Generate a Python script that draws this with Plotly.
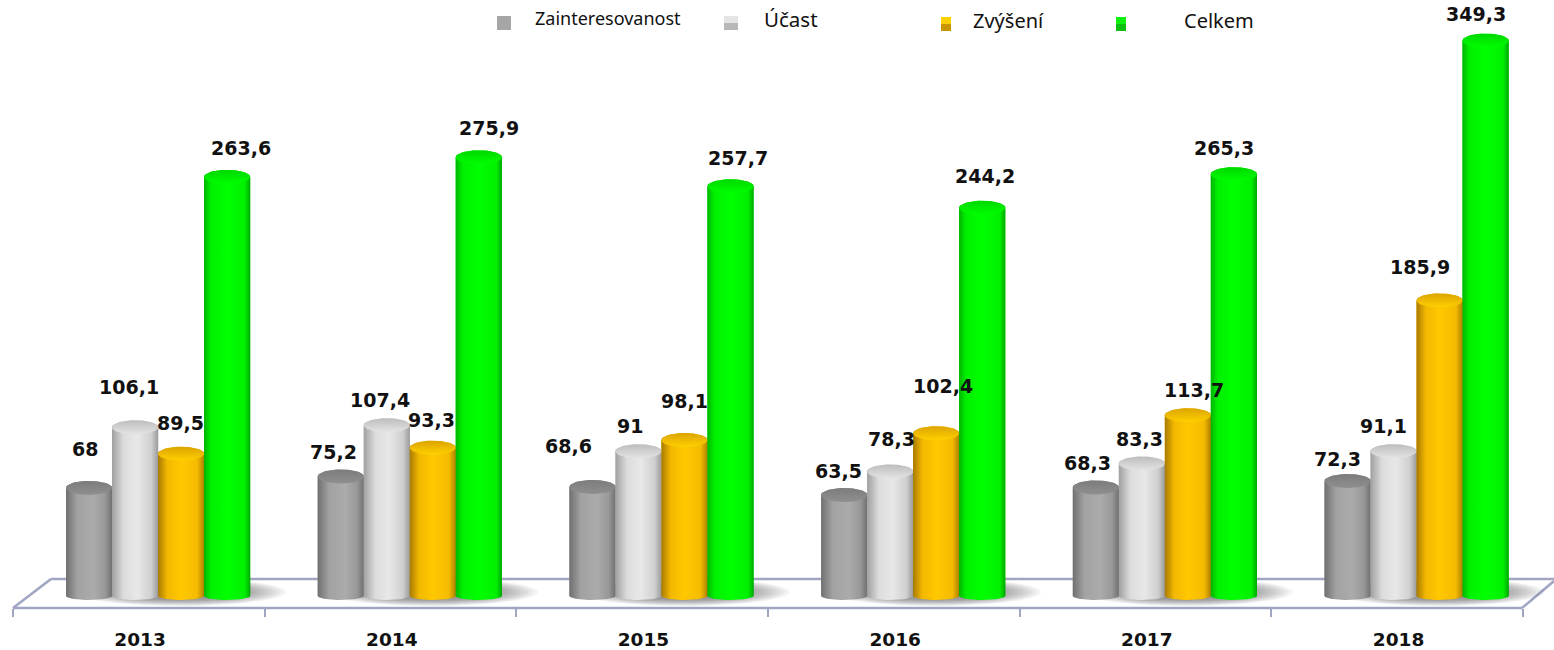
import numpy as np
import plotly.graph_objects as go

years = ["2013", "2014", "2015", "2016", "2017", "2018"]
zainteresovanost = [68, 75.2, 68.6, 63.5, 68.3, 72.3]
ucast = [106.1, 107.4, 91, 78.3, 83.3, 91.1]
zvyseni = [89.5, 93.3, 98.1, 102.4, 113.7, 185.9]
celkem = [263.6, 275.9, 257.7, 244.2, 265.3, 349.3]
series_names = ["Zainteresovanost", "Účast", "Zvýšení", "Celkem"]
series_values = [zainteresovanost, ucast, zvyseni, celkem]

# hand-placed label offsets in pixels, per series then per year
label_dx = [[-4, -7, -24, -6, -8, -10], [-6, -7, -9, 1, -2, -10],
            [-1, -1, 0, 7, 6, -20], [14, 10, 7, 3, -10, -10]]
label_dy = [[39, 24, 41, 24, 24, 22], [40, 25, 25, 33, 25, 25],
            [31, 28, 39, 47, 25, 33], [29, 29, 28, 32, 26, 27]]

# styles
body_colors = [
    [[0, "#707070"], [0.25, "#a2a2a2"], [0.6, "#ababab"], [0.85, "#989898"], [1, "#707070"]],
    [[0, "#a0a0a0"], [0.25, "#dcdcdc"], [0.55, "#e8e8e8"], [0.85, "#cfcfcf"], [1, "#9a9a9a"]],
    [[0, "#a87a00"], [0.2, "#f2b800"], [0.5, "#ffc800"], [0.85, "#f5bb00"], [1, "#ad8000"]],
    [[0, "#00b400"], [0.15, "#00f000"], [0.5, "#00ff00"], [0.88, "#00f000"], [1, "#00a800"]],
]
cap_colors = [
    [[0, "#8f8f8f"], [1, "#7c7c7c"]],
    [[0, "#e4e4e4"], [1, "#bdbdbd"]],
    [[0, "#ffd000"], [1, "#dca400"]],
    [[0, "#00ff00"], [1, "#00d800"]],
]
mid_colors = ["#a2a2a2", "#dcdcdc", "#ffc800", "#00f000"]
swatches = [("#a6a6a6", None, 497, 511, 16, 30), ("#b8b8b8", "#e4e4e4", 724, 738, 16, 30),
            ("#c89600", "#ffd000", 941, 951, 17, 31), ("#10c010", "#10f010", 1116, 1126, 17, 31)]
legend_text = [(534, 18, 18), (763, 19, 20.5), (972, 21, 20), (1183, 21, 20)]

W, H = 1554, 650
UNIT = 251.7         # pixels per year
X0 = 138.8           # pixel of the first year's slot centre
PX_Y = 1.59          # pixels per value unit
Y0 = 596             # pixel of value zero
AXIS_PX = 608
BAR_W = 46.2 / UNIT
OFFSETS = [(66 + 46 * k - X0) / UNIT for k in range(4)]
RT = 7 / PX_Y
RB = 4.0 / PX_Y

fig = go.Figure()

# true bars, carrying the values
for k, (name, vals) in enumerate(zip(series_names, series_values)):
    fig.add_trace(go.Bar(x=list(range(6)), y=vals, name=name, width=BAR_W, offset=OFFSETS[k],
                         marker=dict(color=mid_colors[k], line=dict(width=0)),
                         showlegend=False, hoverinfo="skip"))

# floor shadow
t = np.linspace(0, 2 * np.pi, 60)
for i in range(6):
    cx = i + (66 + 114 - X0) / UNIT
    for s in np.linspace(1.0, 0.55, 12):
        fig.add_trace(go.Scatter(
            x=cx + s * 106 / UNIT * np.cos(t), y=(Y0 - 592) / PX_Y + s * 14 / PX_Y * np.sin(t),
            mode="lines", line=dict(width=0), fill="toself",
            fillcolor="rgba(60,60,60,0.055)", showlegend=False, hoverinfo="skip"))

# cylinder shading derived from the values
a = np.linspace(0, np.pi, 30)
for k, vals in enumerate(series_values):
    for i, v in enumerate(vals):
        xl = i + OFFSETS[k]
        r = BAR_W / 2
        xc = xl + r
        xs = np.concatenate([xc - r * np.cos(a), xc + r * np.cos(a)])
        ys = np.concatenate([-RB * np.sin(a), v + RT * np.sin(a)])
        fig.add_trace(go.Scatter(x=xs, y=ys, mode="lines", line=dict(width=0), fill="toself",
                                 fillgradient=dict(type="horizontal", colorscale=body_colors[k]),
                                 showlegend=False, hoverinfo="skip"))
        full = np.linspace(0, 2 * np.pi, 60)
        fig.add_trace(go.Scatter(x=xc + r * np.cos(full), y=v + RT * np.sin(full), mode="lines",
                                 line=dict(width=0), fill="toself",
                                 fillgradient=dict(type="vertical", colorscale=cap_colors[k]),
                                 showlegend=False, hoverinfo="skip"))

annotations = []
for k, vals in enumerate(series_values):
    for i, v in enumerate(vals):
        annotations.append(dict(
            x=i + OFFSETS[k] + BAR_W / 2, y=v, xref="x", yref="y",
            text=f"{v:g}".replace(".", ","), showarrow=False,
            xshift=label_dx[k][i], yshift=label_dy[k][i], xanchor="center", yanchor="middle",
            font=dict(family="DejaVu Sans", size=19, color="#111111", weight="bold")))
for name, (px, py, size) in zip(series_names, legend_text):
    annotations.append(dict(x=px / W, y=(AXIS_PX - py) / AXIS_PX, xref="paper", yref="paper",
                            text=name, showarrow=False, xanchor="left", yanchor="middle",
                            xshift=-1,
                            font=dict(family="Noto Sans", size=size, color="#111111")))

line_c = "#a0a5c2"
shapes = []
for c, c2, x0, x1, y0, y1 in swatches:
    shapes.append(dict(type="rect", xref="paper", yref="paper", x0=x0 / W, x1=x1 / W,
                       y0=(AXIS_PX - y0) / AXIS_PX, y1=(AXIS_PX - y1) / AXIS_PX,
                       fillcolor=c, line=dict(width=0), layer="above"))
    if c2:
        shapes.append(dict(type="rect", xref="paper", yref="paper", x0=x0 / W, x1=x1 / W,
                           y0=(AXIS_PX - y0) / AXIS_PX, y1=(AXIS_PX - y0 - 7) / AXIS_PX,
                           fillcolor=c2, line=dict(width=0), layer="above"))
def seg(x0, y0, x1, y1):
    return dict(type="line", xref="paper", yref="paper", x0=x0 / W, x1=x1 / W,
                y0=(AXIS_PX - y0) / AXIS_PX, y1=(AXIS_PX - y1) / AXIS_PX,
                line=dict(color=line_c, width=2.5), layer="below")
shapes += [seg(13, 608, 51, 579), seg(51, 579, 1554, 579), seg(13, 608, 1522, 608), seg(1522, 608, 1554, 581)]

fig.update_layout(
    width=W, height=H, margin=dict(l=0, r=0, t=0, b=H - AXIS_PX),
    paper_bgcolor="white", plot_bgcolor="rgba(0,0,0,0)", barmode="overlay", showlegend=False,
    annotations=annotations, shapes=shapes,
    xaxis=dict(range=[-X0 / UNIT, (W - X0) / UNIT], tickmode="array",
               tickvals=[i + 0.005 for i in range(6)],
               ticktext=years, ticks="outside", ticklen=15, tickcolor="rgba(0,0,0,0)",
               showgrid=False, zeroline=False, showline=False, automargin=False,
               tickfont=dict(family="DejaVu Sans", size=18.5, color="#111111", weight="bold"),
               minor=dict(tickmode="array", tickvals=[i - 0.5 for i in range(7)], ticks="outside",
                          ticklen=8, tickcolor=line_c, tickwidth=2, showgrid=False)),
    yaxis=dict(range=[(Y0 - AXIS_PX) / PX_Y, Y0 / PX_Y], visible=False, showgrid=False, zeroline=False,
               automargin=False),
)
fig.write_html("out.html", config=dict(displayModeBar=False),
               post_script="document.body.style.margin='0';document.body.style.overflow='hidden';")
